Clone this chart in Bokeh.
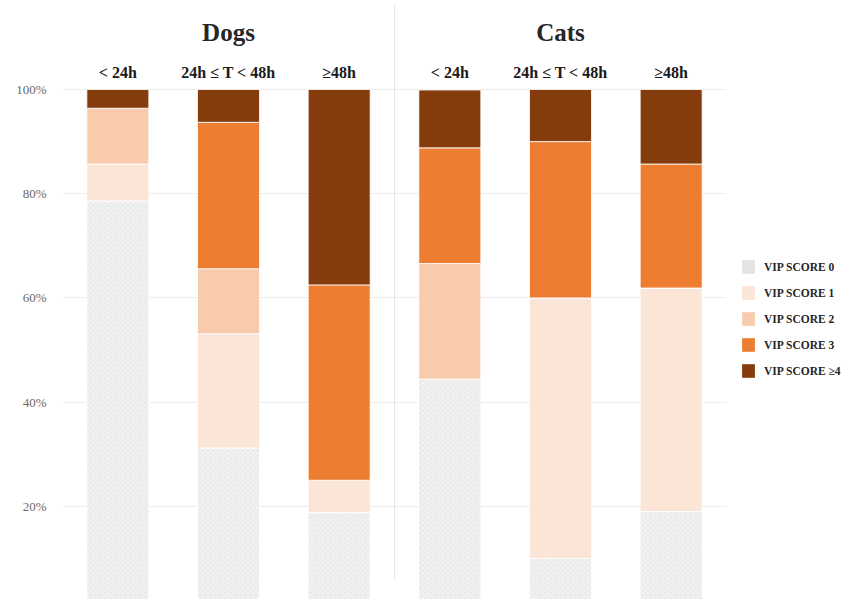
from bokeh.plotting import figure
from bokeh.layouts import row
from bokeh.models import (FactorRange, ColumnDataSource, Legend, LegendItem,
                          FixedTicker, PrintfTickFormatter, Range1d)
from bokeh.core.properties import value
from bokeh.embed import file_html
from bokeh.resources import INLINE

# ---- data (percent of animals per VIP score) ----
species = ["Dogs", "Cats"]
times = ["< 24h", "24h \u2264 T < 48h", "\u226548h"]
score_labels = ["VIP SCORE 0", "VIP SCORE 1", "VIP SCORE 2", "VIP SCORE 3", "VIP SCORE \u22654"]
score0 = [78.6, 31.2, 18.8, 44.4, 10.0, 19.0]
score1 = [7.1, 21.9, 6.2, 0.0, 50.0, 42.9]
score2 = [10.7, 12.5, 0.0, 22.2, 0.0, 0.0]
score3 = [0.0, 28.1, 37.5, 22.2, 30.0, 23.8]
score4 = [3.6, 6.3, 37.5, 11.1, 10.0, 14.3]
y_ticks = [0, 20, 40, 60, 80, 100]

colors = ["#ebebeb", "#fbe5d6", "#f8cbad", "#ed7d31", "#843c0c"]
SERIF = "Liberation Serif"

factors = [(s, t) for s in species for t in times]
keys = ["s0", "s1", "s2", "s3", "s4"]
source = ColumnDataSource(dict(x=factors, s0=score0, s1=score1, s2=score2,
                               s3=score3, s4=score4))

H = 599
px_per_pct = 5.21
top_px = 89          # pixel row of 100% inside the figure
y_top = 100 + top_px / px_per_pct
y_bot = y_top - H / px_per_pct

p = figure(width=727, height=H, output_backend="svg", toolbar_location=None,
           x_range=FactorRange(*factors, range_padding=0, group_padding=0,
                               factor_padding=0),
           y_range=Range1d(y_bot, y_top),
           min_border_left=62, min_border_right=1, min_border_top=0,
           min_border_bottom=0)
p.outline_line_color = None
p.background_fill_color = "white"
p.border_fill_color = "white"

p.xaxis.visible = False
p.xgrid.grid_line_color = None
p.yaxis.ticker = FixedTicker(ticks=y_ticks)
p.yaxis.formatter = PrintfTickFormatter(format="%d%%")
p.yaxis.axis_line_color = None
p.yaxis.major_tick_line_color = None
p.yaxis.minor_tick_line_color = None
p.yaxis.major_label_standoff = 10
p.yaxis.major_label_text_font = SERIF
p.yaxis.major_label_text_font_size = "13px"
p.yaxis.major_label_text_color = "#6a6a6a"
p.ygrid.ticker = FixedTicker(ticks=y_ticks)
p.ygrid.grid_line_color = "#ececec"
p.ygrid.grid_line_width = 1

# separator between Dogs and Cats
p.segment(x0=[("Cats", times[0], -0.5)], y0=[6.1], x1=[("Cats", times[0], -0.5)],
          y1=[116.1], line_color="#e4e4e4", line_width=1.2)

rends = p.vbar_stack(keys, x="x", width=0.56, color=colors, source=source,
                     line_color="white", line_width=0.8)
g0 = rends[0].glyph
g0.hatch_pattern = "diagonal_cross"
g0.hatch_color = "#ffffff"
g0.hatch_alpha = 0.55
g0.hatch_scale = 5
g0.hatch_weight = 0.8

# group titles and period labels
p.text(x=[(s, times[1]) for s in species], y=[110.9] * 2, text=species,
       text_font=value(SERIF), text_font_style="bold", text_font_size="25px",
       text_align="center", text_baseline="middle", text_color="#262626")
p.text(x=factors, y=[103.2] * len(factors), text=[f[1] for f in factors],
       text_font=value(SERIF), text_font_style="bold", text_font_size="16px",
       text_align="center", text_baseline="middle", text_color="#1a1a1a")

# ---- legend panel ----
q = figure(width=848 - 727, height=H, output_backend="svg", toolbar_location=None,
           x_range=Range1d(0, 1), y_range=Range1d(0, 1),
           min_border_left=0, min_border_right=0, min_border_top=0,
           min_border_bottom=0)
q.axis.visible = False
q.grid.visible = False
q.outline_line_color = None
# legend keys only: one off-screen sample so each swatch is drawn
offscreen = ColumnDataSource(dict(x=[5.0], top=[5.0]))
legend_colors = ["#e3e3e3"] + colors[1:]
swatches = [q.vbar(x="x", top="top", bottom=4.0, width=0.5, fill_color=c,
                   line_color=None, source=offscreen) for c in legend_colors]
legend = Legend(items=[LegendItem(label=lab, renderers=[r])
                       for lab, r in zip(score_labels, swatches)],
                location=(13, 220), orientation="vertical",
                glyph_width=16, glyph_height=17, label_height=17,
                spacing=9, padding=0, margin=0, border_line_color=None,
                background_fill_alpha=0,
                label_text_font=SERIF, label_text_font_style="bold",
                label_text_font_size="11.5px", label_text_color="#262626",
                label_standoff=8)
q.add_layout(legend)

open("out.html", "w").write(file_html(row(p, q), INLINE))
